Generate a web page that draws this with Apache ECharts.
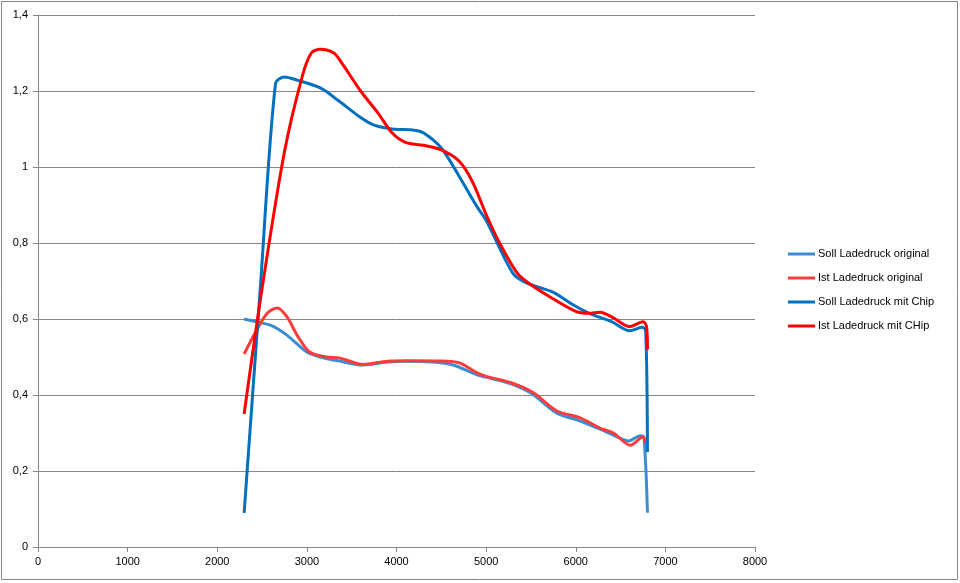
<!DOCTYPE html>
<html>
<head>
<meta charset="utf-8">
<script src="https://cdn.jsdelivr.net/npm/echarts@6/dist/echarts.min.js"></script>
<style>html,body{margin:0;padding:0;background:#fff}#c{width:960px;height:583px}</style>
</head>
<body>
<div id="c"></div>
<script>
const seriesNames = ['Soll Ladedruck original', 'Ist Ladedruck original', 'Soll Ladedruck mit Chip', 'Ist Ladedruck mit CHip'];
const xTicks = [0, 1000, 2000, 3000, 4000, 5000, 6000, 7000, 8000];
const yTicks = [0, 0.2, 0.4, 0.6, 0.8, 1, 1.2, 1.4];

const sollOrigRpm = [2300, 2450, 2600, 2780, 3000, 3150, 3350, 3630, 3900, 4120, 4400, 4630, 4900, 5000, 5270, 5500, 5790, 6020, 6270, 6460, 6590, 6720, 6760, 6800];
const sollOrig    = [0.60, 0.592, 0.583, 0.557, 0.513, 0.50, 0.49, 0.479, 0.487, 0.489, 0.487, 0.479, 0.453, 0.447, 0.43, 0.405, 0.352, 0.334, 0.31, 0.29, 0.279, 0.293, 0.29, 0.09];

const istOrigRpm = [2300, 2440, 2560, 2670, 2780, 2890, 3030, 3220, 3370, 3630, 3900, 4150, 4560, 4710, 4900, 5000, 5270, 5520, 5790, 6050, 6270, 6420, 6610, 6750, 6780, 6800];
const istOrig    = [0.508, 0.571, 0.616, 0.629, 0.605, 0.558, 0.513, 0.50, 0.497, 0.48, 0.489, 0.49, 0.489, 0.484, 0.458, 0.449, 0.433, 0.407, 0.358, 0.34, 0.313, 0.30, 0.268, 0.29, 0.277, 0.27];

const sollChipRpm = [2300, 2480, 2650, 2750, 2900, 3150, 3350, 3600, 3750, 3950, 4200, 4300, 4500, 4700, 4900, 5000, 5300, 5450, 5750, 5950, 6150, 6400, 6600, 6740, 6780, 6800];
const sollChip    = [0.09, 0.68, 1.22, 1.237, 1.228, 1.208, 1.175, 1.13, 1.11, 1.10, 1.097, 1.09, 1.05, 0.975, 0.895, 0.86, 0.72, 0.695, 0.67, 0.64, 0.615, 0.593, 0.569, 0.578, 0.57, 0.25];

const istChipRpm = [2300, 2500, 2750, 2950, 3050, 3150, 3300, 3400, 3600, 3800, 3950, 4100, 4300, 4500, 4700, 4850, 5000, 5150, 5350, 5500, 5700, 6000, 6150, 6270, 6420, 6600, 6750, 6790, 6800];
const istChip    = [0.35, 0.68, 1.04, 1.24, 1.30, 1.31, 1.30, 1.27, 1.20, 1.14, 1.09, 1.065, 1.057, 1.045, 1.015, 0.96, 0.875, 0.80, 0.72, 0.69, 0.66, 0.62, 0.615, 0.618, 0.603, 0.58, 0.593, 0.58, 0.52];

const colors = ['#3a8dd3', '#ff3b3b', '#0070c0', '#ff0000'];
const zip = (xs, ys) => xs.map((x, i) => [x, ys[i]]);
const allData = [zip(sollOrigRpm, sollOrig), zip(istOrigRpm, istOrig), zip(sollChipRpm, sollChip), zip(istChipRpm, istChip)];

const font = 'Liberation Sans, Arial, sans-serif';
const chart = echarts.init(document.getElementById('c'));
chart.setOption({
  animation: false,
  backgroundColor: '#fff',
  graphic: [{type: 'rect', shape: {x: 1.5, y: 1.5, width: 956, height: 578}, style: {fill: 'none', stroke: '#868686', lineWidth: 1}, silent: true}],
  grid: {left: 38, right: 205, top: 15, bottom: 36, containLabel: false},
  legend: {
    orient: 'vertical', left: 788, top: 247, padding: 0, icon: 'rect', itemWidth: 27, itemHeight: 3, itemGap: 10,
    textStyle: {fontFamily: font, fontSize: 11, color: '#000', lineHeight: 14, padding: [0, 0, 0, -2]},
    data: seriesNames
  },
  xAxis: {
    type: 'value', min: xTicks[0], max: xTicks[xTicks.length - 1], interval: 1000,
    axisLine: {show: true, lineStyle: {color: '#868686'}},
    axisTick: {show: true, length: 5, lineStyle: {color: '#868686'}},
    axisLabel: {fontFamily: font, fontSize: 11, color: '#000', margin: 9, formatter: v => String(v)},
    splitLine: {show: false}
  },
  yAxis: {
    type: 'value', min: yTicks[0], max: yTicks[yTicks.length - 1], interval: 0.2,
    axisLine: {show: true, lineStyle: {color: '#868686'}},
    axisTick: {show: true, length: 5, lineStyle: {color: '#868686'}},
    axisLabel: {fontFamily: font, fontSize: 11, color: '#000', margin: 10,
      formatter: v => String(Number(v.toFixed(1))).replace('.', ',')},
    splitLine: {show: true, lineStyle: {color: '#868686', width: 1}}
  },
  series: seriesNames.map((n, i) => ({
    name: n, type: 'line', data: allData[i], symbol: 'none', smooth: 0.3,
    color: colors[i], lineStyle: {width: 3, color: colors[i]}, z: 2 + i
  }))
});
</script>
</body>
</html>
